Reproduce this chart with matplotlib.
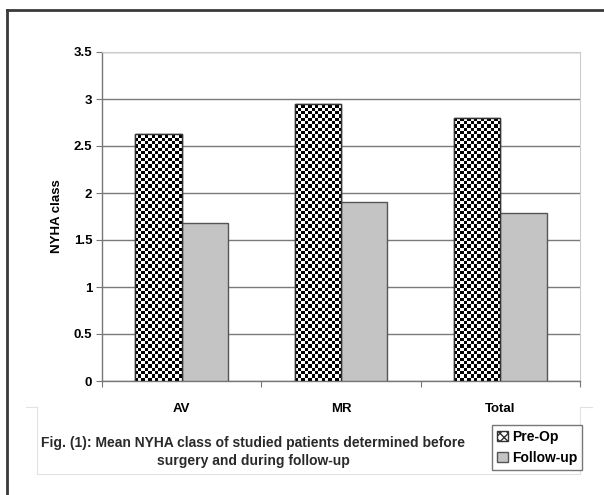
import numpy as np
import matplotlib
matplotlib.use("Agg")
import matplotlib.pyplot as plt
from matplotlib.patches import Rectangle, Patch
from matplotlib.lines import Line2D

categories = ["AV", "MR", "Total"]
pre_op = [2.63, 2.95, 2.80]
follow_up = [1.68, 1.90, 1.79]
yticks = [0, 0.5, 1, 1.5, 2, 2.5, 3, 3.5]
ytick_labels = ["0", "0.5", "1", "1.5", "2", "2.5", "3", "3.5"]
series_names = ["Pre-Op", "Follow-up"]
caption = "Fig. (1): Mean NYHA class of studied patients determined before\nsurgery and during follow-up"

plt.rcParams['font.family'] = ['Liberation Sans', 'DejaVu Sans']

W, H = 604, 495
def fx(px):
    return px / W
def fy(py):
    return 1 - py / H

fig = plt.figure(figsize=(6.04, 4.95), dpi=100)
fig.patch.set_facecolor("white")

# outer frame (cropped box)
fig.add_artist(Line2D([fx(7), fx(7)], [0, fy(10)], transform=fig.transFigure, color="#3a3a3a", lw=2))
fig.add_artist(Line2D([fx(7), 1], [fy(10), fy(10)], transform=fig.transFigure, color="#3a3a3a", lw=2))

# faint caption box (bracket shape)
faint = "#e2e2e2"
for xs, ys in [([26, 37], [407, 407]), ([37, 37], [407, 474]), ([37, 580], [474, 474]),
               ([580, 580], [407, 474]), ([580, 592], [407, 407])]:
    fig.add_artist(Line2D([fx(v) for v in xs], [fy(v) for v in ys], transform=fig.transFigure,
                          color=faint, lw=0.8, zorder=-1))

ax = fig.add_axes([fx(102), fy(381), (580 - 102) / W, (381 - 52) / H])
ax.set_xlim(0, 3)
ax.set_ylim(0, 3.5)
ax.patch.set_alpha(0)

x = np.arange(len(categories)) + 0.5
w = 0.29
bars_pre = ax.bar(x - w/2, pre_op, width=w, facecolor="white", edgecolor="#333333", lw=1, zorder=3)
bars_fu = ax.bar(x + w/2, follow_up, width=w, facecolor="#c4c4c4", edgecolor="#555555", lw=1, zorder=3)

# checkerboard fill
nx, ny = 144, 99
ii, jj = np.meshgrid(np.arange(nx), np.arange(ny))
checker = ((ii + jj) % 2).astype(float)
for b in bars_pre:
    im = ax.imshow(checker, cmap="gray", vmin=0, vmax=1, extent=[0, 1, 0, 1],
                   transform=ax.transAxes, interpolation="nearest", aspect="auto", zorder=3.5)
    im.set_clip_path(b)
for b in bars_pre:
    ax.add_patch(Rectangle(b.get_xy(), b.get_width(), b.get_height(), fill=False,
                           edgecolor="#333333", lw=1, zorder=4))

ax.set_yticks(yticks)
ax.set_yticklabels(ytick_labels, fontsize=9.5, fontweight="bold")
ax.yaxis.grid(True, color="#7a7a7a", lw=1)
ax.set_axisbelow(True)

ax.set_xticks([0, 1, 2, 3])
ax.set_xticklabels([])
ax.set_xticks(x, minor=True)
ax.set_xticklabels(categories, minor=True, fontsize=9.5, fontweight="bold")
ax.tick_params(axis="x", which="minor", length=0, pad=16)
ax.tick_params(axis="x", which="major", length=4, color="#777777", direction="out")
ax.tick_params(axis="y", length=4, color="#777777", pad=3)

for s in ["left", "bottom"]:
    ax.spines[s].set_color("#777777")
    ax.spines[s].set_linewidth(1)
for s in ["top", "right"]:
    ax.spines[s].set_color("#cccccc")
    ax.spines[s].set_linewidth(0.8)

ax.set_ylabel("NYHA class", fontsize=9.5, fontweight="bold", labelpad=8)

fig.text(fx(253), fy(452), caption, ha="center", va="center", fontsize=10,
         fontweight="bold", color="#2a2a2a", linespacing=1.45)

handles = [Patch(facecolor="white", edgecolor="#333333", hatch="xxxx"),
           Patch(facecolor="#c4c4c4", edgecolor="#555555")]
leg = fig.legend(handles, series_names, loc="upper left", bbox_to_anchor=(fx(492), fy(425)),
                 bbox_transform=fig.transFigure, prop={"weight": "bold", "size": 10},
                 frameon=True, fancybox=False, edgecolor="#555555", handlelength=0.8,
                 handleheight=0.8, handletextpad=0.3, borderpad=0.35, labelspacing=0.5, borderaxespad=0)
leg.get_frame().set_linewidth(1)

fig.savefig("out.png", dpi=100, facecolor="white")
